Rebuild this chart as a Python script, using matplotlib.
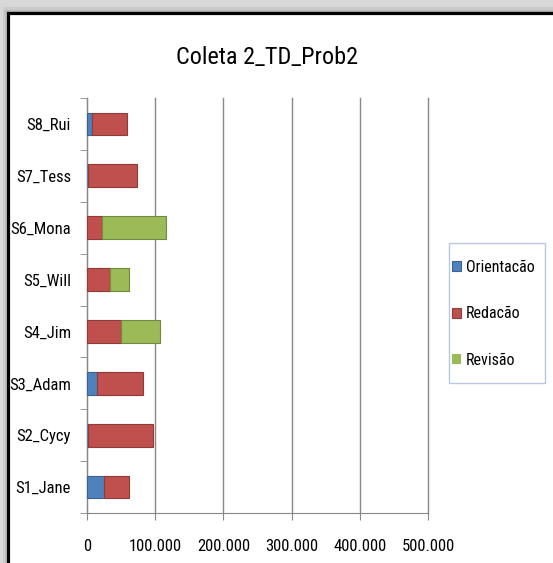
import matplotlib.pyplot as plt
from matplotlib.patches import Rectangle
from matplotlib.ticker import FuncFormatter, FixedLocator

plt.rcParams['font.family'] = ['Roboto Condensed', 'Carlito', 'DejaVu Sans']

subjects = ['S1_Jane', 'S2_Cycy', 'S3_Adam', 'S4_Jim', 'S5_Will', 'S6_Mona', 'S7_Tess', 'S8_Rui']
orientacao = [25000, 1000, 15000, 0, 0, 0, 1000, 7000]
redacao = [36000, 95500, 67000, 50000, 34000, 21500, 72000, 51000]
revisao = [0, 0, 0, 57000, 27000, 94000, 0, 0]
series_names = ['Orientacão', 'Redacão', 'Revisão']
colors = ['#4F81BD', '#C0504D', '#9BBB59']
edges = ['#3A6190', '#8E3B39', '#71893F']

W, H = 553, 563
fig = plt.figure(figsize=(W / 100, H / 100), dpi=100)
fig.patch.set_facecolor('#d8d8d8')
# soft shadow around the frame
for pad, shade in [(5, '#cbcbcb'), (3, '#bdbdbd'), (1.5, '#b0b0b0')]:
    fig.patches.append(Rectangle(((8 - pad) / W, -0.05), 1.2, 1 - (12.5 - pad) / H + 0.05,
                                 transform=fig.transFigure, facecolor=shade, edgecolor='none', zorder=-4))
fig.patches.append(Rectangle((8 / W, -0.05), 1.2, 1 - 12.5 / H + 0.05, transform=fig.transFigure,
                             facecolor='white', edgecolor='black', linewidth=2.3, zorder=-3))

ax = fig.add_axes([87 / W, 1 - 513 / H, 341 / W, 415 / H])
ax.set_facecolor('none')
y = list(range(len(subjects)))
left = [0] * len(subjects)
for vals, name, c, ec in zip([orientacao, redacao, revisao], series_names, colors, edges):
    lw = [0.8 if v > 2000 else 0 for v in vals]
    ax.barh(y, vals, left=left, height=0.44, color=c, edgecolor=ec, linewidth=lw, label=name, zorder=3)
    left = [a + b for a, b in zip(left, vals)]

ax.set_xlim(0, 500000)
ax.set_ylim(-0.5, len(subjects) - 0.5)
ax.set_xticks(range(0, 500001, 100000))
ax.xaxis.set_major_formatter(FuncFormatter(lambda v, p: '0' if v == 0 else f'{int(v):,}'.replace(',', '.')))
ax.set_yticks(y)
ax.set_yticklabels(subjects)
ax.yaxis.set_minor_locator(FixedLocator([i - 0.5 for i in range(len(subjects) + 1)]))
ax.tick_params(axis='y', which='major', length=0, pad=11.5, labelsize=12)
ax.tick_params(axis='y', which='minor', length=5, color='#888888')
ax.tick_params(axis='x', length=5, color='#888888', labelsize=12, pad=14)
ax.grid(axis='x', color='#888888', linewidth=1, zorder=0)
for line in ax.get_xgridlines():
    line.set_clip_on(False)
for s in ['top', 'right']:
    ax.spines[s].set_visible(False)
for s in ['left', 'bottom']:
    ax.spines[s].set_color('#888888')

fig.text(267 / W, 1 - 58 / H, 'Coleta 2_TD_Prob2', ha='center', va='center', fontsize=17.5)

# legend box drawn separately so its padding can match the reference
fig.patches.append(Rectangle((449 / W, 1 - 383 / H), 96 / W, 140 / H, transform=fig.transFigure,
                             facecolor='white', edgecolor='#B9C7E0', linewidth=1, zorder=-1))
leg = ax.legend(loc='center left', bbox_to_anchor=(450 / W, 1 - 314 / H), bbox_transform=fig.transFigure,
                frameon=False, fontsize=11.5, handlelength=0.6, handleheight=0.6, handletextpad=0.3,
                labelspacing=1.97, borderpad=0.1, borderaxespad=0)

fig.savefig('out.png', dpi=100, facecolor=fig.get_facecolor())
